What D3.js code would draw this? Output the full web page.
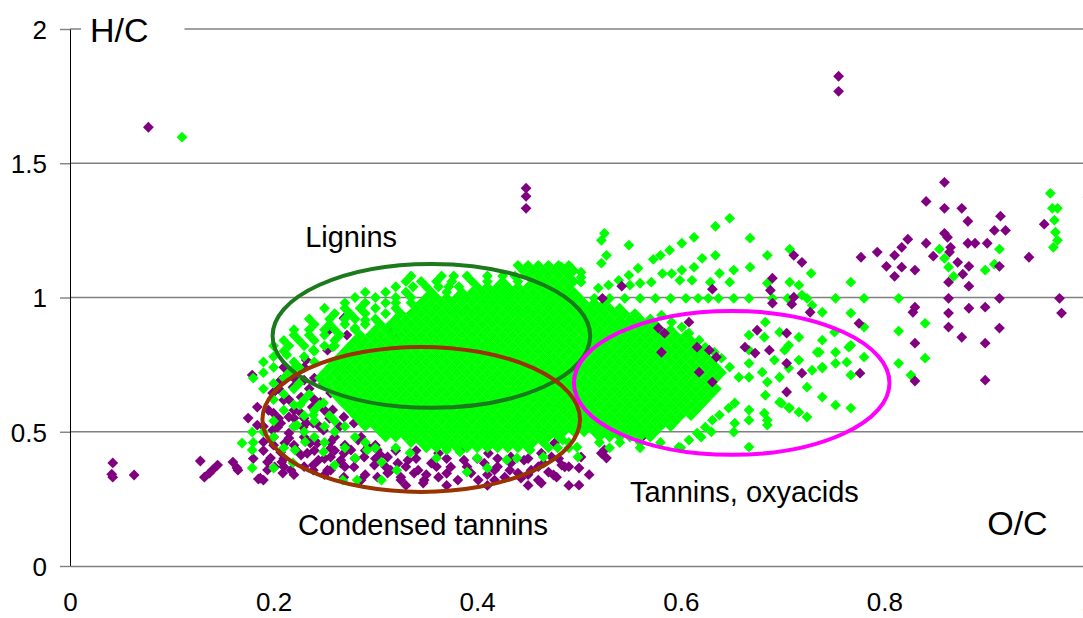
<!DOCTYPE html>
<html><head><meta charset="utf-8">
<script src="https://cdn.jsdelivr.net/npm/d3@7"></script>
<style>html,body{margin:0;padding:0;background:#fff;overflow:hidden}</style>
</head><body>
<svg id="chart" width="1083" height="618"></svg>
<script>
// ---------- axis ticks ----------
const xTicks = [0, 0.2, 0.4, 0.6, 0.8, 1];
const xTickLabels = ["0", "0.2", "0.4", "0.6", "0.8", "1"];
const yTicks = [0, 0.5, 1, 1.5, 2];
const yTickLabels = ["0", "0.5", "1", "1.5", "2"];

// ---------- purple series (drawn beneath green) ----------
const purpleLow = [[0.077,1.634],[0.448,1.407],[0.448,1.377],[0.448,1.332],
[0.042,0.384],[0.042,0.331],[0.041,0.342],[0.063,0.339],[0.128,0.391],[0.132,0.331],[0.137,0.346],[0.140,0.358],[0.145,0.376],[0.160,0.387],[0.164,0.365],[0.175,0.551],[0.184,0.592],[0.184,0.525],[0.190,0.462],[0.194,0.387],[0.185,0.324],[0.194,0.358],[0.201,0.369],[0.208,0.387],[0.209,0.346],[0.211,0.458],
[0.200,0.647],[0.200,0.569],[0.207,0.532],[0.199,0.506],[0.220,0.551],[0.232,0.532],[0.215,0.476],[0.165,0.357],[0.187,0.327],[0.207,0.424],[0.217,0.357],[0.227,0.413],[0.236,0.458],[0.244,0.394],[0.256,0.439],[0.266,0.394],[0.276,0.432],[0.283,0.469],[0.289,0.406],[0.299,0.376],[0.305,0.413],[0.312,0.346],[0.269,0.331],[0.256,0.357],[0.239,0.357],[0.322,0.383],[0.325,0.331],[0.342,0.357],[0.348,0.320],[0.355,0.383],[0.362,0.331],[0.374,0.369],[0.381,0.320],[0.387,0.394],[0.394,0.346],[0.401,0.320],[0.407,0.383],[0.417,0.357],[0.427,0.331],[0.433,0.383],[0.440,0.346],[0.446,0.394],[0.453,0.357],[0.460,0.320],[0.465,0.383],[0.473,0.406],[0.478,0.331],[0.486,0.369],[0.500,0.365],[0.500,0.301],[0.502,0.406],[0.463,0.309],
[0.475,0.339],[0.483,0.376],[0.522,0.420],[0.527,0.402],[0.338,0.346],[0.347,0.309],[0.417,0.320],[0.432,0.357],[0.443,0.327],[0.332,0.394],[0.362,0.420],[0.384,0.432],[0.411,0.420],[0.433,0.406],[0.463,0.420],[0.476,0.458],
[0.269,0.923],[0.179,0.711],[0.232,0.767],[0.207,0.692],[0.219,0.666],[0.199,0.644],[0.210,0.618],[0.227,0.629],[0.238,0.592],[0.227,0.569],[0.215,0.555],[0.204,0.517],[0.215,0.495],[0.229,0.517],[0.239,0.532],[0.249,0.506],[0.232,0.469],[0.243,0.458],[0.256,0.461],[0.222,0.432],[0.233,0.420],[0.256,0.406],[0.269,0.420],[0.197,0.402],[0.190,0.320],[0.239,0.376],[0.253,0.357],[0.266,0.383],[0.279,0.369],[0.249,0.681],[0.256,0.644],[0.246,0.610],[0.258,0.581],[0.269,0.555],[0.279,0.532],[0.286,0.480],[0.293,0.443],[0.302,0.432],[0.312,0.406],[0.315,0.357],[0.325,0.320],[0.302,0.331],[0.286,0.320],[0.255,0.880],[0.272,0.860],[0.253,0.804],[0.230,0.692],[0.313,0.878],[0.320,0.849],[0.562,0.480],[0.525,0.432],
[0.33,0.30],[0.37,0.30],[0.41,0.30],[0.45,0.30],[0.49,0.30],
[0.22,0.34],[0.25,0.34],[0.29,0.34],[0.35,0.34],[0.37,0.345],[0.41,0.34],[0.45,0.34],[0.47,0.35],[0.51,0.34],
[0.21,0.37],[0.23,0.37],[0.27,0.37],[0.31,0.37],[0.33,0.37],[0.36,0.37],[0.39,0.37],[0.42,0.37],[0.46,0.37],[0.49,0.37],
[0.18,0.40],[0.21,0.40],[0.25,0.40],[0.28,0.40],[0.30,0.40],[0.34,0.40],[0.37,0.40],[0.40,0.40],[0.42,0.40],[0.45,0.40],[0.48,0.40],
[0.19,0.43],[0.24,0.43],[0.26,0.43],[0.29,0.43],[0.32,0.43],[0.34,0.43],
[0.20,0.45],[0.22,0.45],[0.27,0.45],[0.30,0.45],
[0.20,0.48],[0.23,0.48],[0.26,0.48],
[0.19,0.52],[0.22,0.52],[0.245,0.52],[0.265,0.52],
[0.205,0.55],[0.23,0.55],[0.255,0.55],
[0.195,0.58],[0.22,0.58],[0.25,0.58],
[0.215,0.62],[0.24,0.62],
[0.205,0.66],[0.235,0.66],
[0.22,0.70],[0.24,0.70],
[0.21,0.74],[0.23,0.74]];

// ---------- purple series (drawn over green, right side) ----------
const purpleHigh = [[0.755,1.824],[0.755,1.768],[0.542,1.042],[0.523,0.997],[0.631,1.031],[0.618,0.722],[0.635,0.778],[0.631,0.685],[0.578,0.886],[0.584,0.867],[0.608,0.908],[0.616,0.815],[0.628,0.804],[0.581,0.796],[0.675,0.878],[0.663,0.815],[0.673,0.793],
[0.859,1.429],[0.841,1.358],[0.859,1.332],[0.876,1.332],[0.882,1.284],[0.914,1.303],[0.908,1.250],[0.919,1.250],[0.957,1.273],[0.859,1.239],[0.862,1.224],[0.823,1.217],[0.841,1.202],[0.865,1.187],[0.882,1.202],[0.889,1.202],[0.901,1.202],[0.817,1.187],[0.793,1.169],[0.810,1.157],[0.848,1.154],[0.864,1.169],[0.872,1.131],[0.883,1.116],[0.942,1.150],[0.777,1.150],[0.802,1.116],[0.817,1.113],[0.830,1.102],[0.810,1.079],[0.877,1.087],[0.863,1.057],[0.883,1.042],[0.913,1.116],[0.863,0.997],[0.883,0.960],[0.899,0.964],[0.913,0.997],[0.972,0.997],[0.974,0.942],[0.863,0.942],[0.830,0.964],[0.828,0.945],[0.863,0.890],[0.876,0.852],[0.913,0.886],[0.830,0.830],[0.899,0.830],[0.830,0.689],[0.899,0.692],[0.776,0.718],[0.775,0.904],[0.719,1.131],[0.711,1.157],[0.690,1.072],[0.688,1.027],[0.690,0.979],[0.711,1.001],[0.709,0.975],[0.727,0.945],[0.704,0.867],[0.687,0.804],[0.704,0.755],[0.719,0.718],[0.704,0.648],[1.0,1.374]];

// ---------- green series: dense rows (H/C value, O/C values) ----------
const greenRowY = [1.12,1.10,1.08,1.06,1.04,1.02,1.00,0.98,0.96,0.94,0.92,0.90,0.88,0.86,0.84,0.82,0.80,0.78,0.76,0.74,0.72,0.70,0.68,0.66,0.64,0.62,0.60,0.58,0.56,0.54,0.52,0.50,0.48,0.46,0.44];
const greenRowX = [
[0.44,0.45,0.46,0.47,0.48,0.49],
[0.445,0.455,0.465,0.475,0.485,0.495],
[0.335,0.365,0.377,0.39,0.41,0.425,0.437,0.45,0.46,0.47,0.48,0.49],
[0.33,0.345,0.36,0.375,0.395,0.41,0.425,0.44,0.455,0.465,0.475,0.485,0.495],
[0.32,0.337,0.35,0.362,0.372,0.382,0.4,0.41,0.42,0.43,0.44,0.45,0.46,0.47,0.48,0.49],
[0.29,0.31,0.33,0.355,0.37,0.385,0.395,0.405,0.415,0.425,0.435,0.445,0.455,0.465,0.475,0.485,0.495],
[0.28,0.3,0.32,0.335,0.35,0.36,0.37,0.38,0.39,0.4,0.41,0.42,0.43,0.44,0.45,0.46,0.47,0.48,0.49,0.5],
[0.27,0.29,0.31,0.32,0.335,0.345,0.355,0.365,0.375,0.385,0.395,0.405,0.415,0.425,0.435,0.445,0.455,0.465,0.475,0.485,0.495,0.505,0.515,0.525],
[0.25,0.27,0.285,0.3,0.32,0.34,0.35,0.36,0.37,0.38,0.39,0.4,0.41,0.42,0.43,0.44,0.45,0.46,0.47,0.48,0.49,0.5,0.51,0.52,0.53,0.54],
[0.26,0.275,0.29,0.31,0.325,0.335,0.345,0.355,0.365,0.375,0.385,0.395,0.405,0.415,0.425,0.435,0.445,0.455,0.465,0.475,0.485,0.495,0.505,0.515,0.525,0.535,0.545,0.555],
[0.235,0.255,0.27,0.28,0.3,0.32,0.33,0.34,0.35,0.36,0.37,0.38,0.39,0.4,0.41,0.42,0.43,0.44,0.45,0.46,0.47,0.48,0.49,0.5,0.51,0.52,0.53,0.54,0.55,0.56,0.57],
[0.24,0.255,0.27,0.29,0.305,0.315,0.325,0.335,0.345,0.355,0.365,0.375,0.385,0.395,0.405,0.415,0.425,0.435,0.445,0.455,0.465,0.475,0.485,0.495,0.505,0.515,0.525,0.535,0.545,0.555,0.565,0.575],
[0.22,0.235,0.25,0.26,0.28,0.3,0.31,0.32,0.33,0.34,0.35,0.36,0.37,0.38,0.39,0.4,0.41,0.42,0.43,0.44,0.45,0.46,0.47,0.48,0.49,0.5,0.51,0.52,0.53,0.54,0.55,0.56,0.57,0.58,0.59],
[0.22,0.235,0.25,0.265,0.285,0.295,0.305,0.315,0.325,0.335,0.345,0.355,0.365,0.375,0.385,0.395,0.405,0.415,0.425,0.435,0.445,0.455,0.465,0.475,0.485,0.495,0.505,0.515,0.525,0.535,0.545,0.555,0.565,0.575,0.585,0.595,0.605],
[0.21,0.225,0.24,0.26,0.28,0.29,0.3,0.31,0.32,0.33,0.34,0.35,0.36,0.37,0.38,0.39,0.4,0.41,0.42,0.43,0.44,0.45,0.46,0.47,0.48,0.49,0.5,0.51,0.52,0.53,0.54,0.55,0.56,0.57,0.58,0.59,0.6,0.61],
[0.2,0.215,0.23,0.25,0.26,0.275,0.285,0.295,0.305,0.315,0.325,0.335,0.345,0.355,0.365,0.375,0.385,0.395,0.405,0.415,0.425,0.435,0.445,0.455,0.465,0.475,0.485,0.495,0.505,0.515,0.525,0.535,0.545,0.555,0.565,0.575,0.585,0.595,0.605,0.615],
[0.21,0.24,0.27,0.28,0.29,0.3,0.31,0.32,0.33,0.34,0.35,0.36,0.37,0.38,0.39,0.4,0.41,0.42,0.43,0.44,0.45,0.46,0.47,0.48,0.49,0.5,0.51,0.52,0.53,0.54,0.55,0.56,0.57,0.58,0.59,0.6,0.61,0.62],
[0.2,0.23,0.265,0.275,0.285,0.295,0.305,0.315,0.325,0.335,0.345,0.355,0.365,0.375,0.385,0.395,0.405,0.415,0.425,0.435,0.445,0.455,0.465,0.475,0.485,0.495,0.505,0.515,0.525,0.535,0.545,0.555,0.565,0.575,0.585,0.595,0.605,0.615,0.625],
[0.19,0.22,0.24,0.26,0.27,0.28,0.29,0.3,0.31,0.32,0.33,0.34,0.35,0.36,0.37,0.38,0.39,0.4,0.41,0.42,0.43,0.44,0.45,0.46,0.47,0.48,0.49,0.5,0.51,0.52,0.53,0.54,0.55,0.56,0.57,0.58,0.59,0.6,0.61,0.62,0.63],
[0.2,0.225,0.255,0.265,0.275,0.285,0.295,0.305,0.315,0.325,0.335,0.345,0.355,0.365,0.375,0.385,0.395,0.405,0.415,0.425,0.435,0.445,0.455,0.465,0.475,0.485,0.495,0.505,0.515,0.525,0.535,0.545,0.555,0.565,0.575,0.585,0.595,0.605,0.615,0.625,0.635],
[0.19,0.215,0.25,0.26,0.27,0.28,0.29,0.3,0.31,0.32,0.33,0.34,0.35,0.36,0.37,0.38,0.39,0.4,0.41,0.42,0.43,0.44,0.45,0.46,0.47,0.48,0.49,0.5,0.51,0.52,0.53,0.54,0.55,0.56,0.57,0.58,0.59,0.6,0.61,0.62,0.63,0.64],
[0.18,0.21,0.245,0.255,0.265,0.275,0.285,0.295,0.305,0.315,0.325,0.335,0.345,0.355,0.365,0.375,0.385,0.395,0.405,0.415,0.425,0.435,0.445,0.455,0.465,0.475,0.485,0.495,0.505,0.515,0.525,0.535,0.545,0.555,0.565,0.575,0.585,0.595,0.605,0.615,0.625,0.635],
[0.2,0.225,0.25,0.26,0.27,0.28,0.29,0.3,0.31,0.32,0.33,0.34,0.35,0.36,0.37,0.38,0.39,0.4,0.41,0.42,0.43,0.44,0.45,0.46,0.47,0.48,0.49,0.5,0.51,0.52,0.53,0.54,0.55,0.56,0.57,0.58,0.59,0.6,0.61,0.62,0.63],
[0.19,0.22,0.255,0.265,0.275,0.285,0.295,0.305,0.315,0.325,0.335,0.345,0.355,0.365,0.375,0.385,0.395,0.405,0.415,0.425,0.435,0.445,0.455,0.465,0.475,0.485,0.495,0.505,0.515,0.525,0.535,0.545,0.555,0.565,0.575,0.585,0.595,0.605,0.615,0.625,0.635],
[0.21,0.235,0.26,0.27,0.28,0.29,0.3,0.31,0.32,0.33,0.34,0.35,0.36,0.37,0.38,0.39,0.4,0.41,0.42,0.43,0.44,0.45,0.46,0.47,0.48,0.49,0.5,0.51,0.52,0.53,0.54,0.55,0.56,0.57,0.58,0.59,0.6,0.61,0.62,0.63],
[0.2,0.23,0.265,0.275,0.285,0.295,0.305,0.315,0.325,0.335,0.345,0.355,0.365,0.375,0.385,0.395,0.405,0.415,0.425,0.435,0.445,0.455,0.465,0.475,0.485,0.495,0.505,0.515,0.525,0.535,0.545,0.555,0.565,0.575,0.585,0.595,0.605,0.615,0.625],
[0.22,0.245,0.27,0.28,0.29,0.3,0.31,0.32,0.33,0.34,0.35,0.36,0.37,0.38,0.39,0.4,0.41,0.42,0.43,0.44,0.45,0.46,0.47,0.48,0.49,0.5,0.51,0.52,0.53,0.54,0.55,0.56,0.57,0.58,0.59,0.6,0.61,0.62],
[0.21,0.24,0.275,0.285,0.295,0.305,0.315,0.325,0.335,0.345,0.355,0.365,0.375,0.385,0.395,0.405,0.415,0.425,0.435,0.445,0.455,0.465,0.475,0.485,0.495,0.505,0.515,0.525,0.535,0.545,0.555,0.565,0.575,0.585,0.595,0.605,0.615],
[0.23,0.255,0.28,0.29,0.3,0.31,0.32,0.33,0.34,0.35,0.36,0.37,0.38,0.39,0.4,0.41,0.42,0.43,0.44,0.45,0.46,0.47,0.48,0.49,0.5,0.51,0.52,0.53,0.54,0.55,0.56,0.57,0.58,0.59,0.6,0.61],
[0.2,0.24,0.26,0.285,0.295,0.305,0.315,0.325,0.335,0.345,0.355,0.365,0.375,0.385,0.395,0.405,0.415,0.425,0.435,0.445,0.455,0.465,0.475,0.485,0.495,0.505,0.515,0.525,0.535,0.545,0.555,0.565,0.575,0.585,0.595],
[0.22,0.25,0.27,0.29,0.3,0.31,0.32,0.33,0.34,0.35,0.36,0.37,0.38,0.39,0.4,0.41,0.42,0.43,0.44,0.45,0.46,0.47,0.48,0.49,0.5,0.51,0.52,0.53,0.54,0.55,0.56,0.57,0.58,0.59],
[0.19,0.23,0.26,0.305,0.315,0.325,0.335,0.345,0.355,0.365,0.375,0.385,0.395,0.405,0.415,0.425,0.435,0.445,0.455,0.465,0.475,0.485,0.495,0.505,0.515,0.525,0.535,0.545,0.555,0.565,0.575],
[0.2,0.24,0.28,0.31,0.32,0.33,0.34,0.35,0.36,0.37,0.38,0.39,0.4,0.41,0.42,0.43,0.44,0.45,0.46,0.47,0.48,0.52,0.53,0.54,0.55,0.56,0.57],
[0.18,0.25,0.29,0.335,0.345,0.355,0.365,0.375,0.385,0.395,0.405,0.415,0.425,0.435,0.445,0.455,0.465,0.49,0.52,0.54,0.56,0.58],
[0.21,0.27,0.3,0.32,0.35,0.36,0.37,0.38,0.39,0.4,0.41,0.42,0.43,0.44,0.45,0.47,0.49,0.53,0.56,0.6]
];

// ---------- green series: scattered points ----------
const greenScatter = [[0.110,1.597],
[0.963,1.388],[0.965,1.332],[0.970,1.332],[0.967,1.288],[0.968,1.243],[0.970,1.213],[0.966,1.187],
[0.854,1.180],[0.859,1.146],[0.863,1.113],[0.868,1.079],[0.913,1.180],[0.908,1.124],[0.899,1.102],
[0.752,0.997],[0.780,0.997],[0.814,0.997],
[0.767,1.057],[0.767,0.942],[0.780,0.890],[0.814,0.875],[0.840,0.904],[0.840,0.774],[0.814,0.755],[0.826,0.711],[0.767,0.822],[0.780,0.778],[0.767,0.711],[0.752,0.796],[0.763,0.759],[0.752,0.755],[0.739,0.737],[0.729,0.729],[0.724,0.666],[0.739,0.841],[0.734,0.796],[0.751,0.871],[0.739,0.945],[0.729,0.971],[0.728,1.090],[0.707,1.180],[0.685,1.157],[0.707,1.057],[0.716,1.046],[0.719,1.009],[0.685,1.053],[0.724,0.997],
[0.648,1.295],[0.634,1.265],[0.668,1.221],[0.613,1.224],[0.601,1.202],[0.589,1.176],[0.580,1.157],[0.573,1.142],[0.634,1.157],[0.621,1.146],[0.613,1.113],[0.601,1.102],[0.652,1.102],[0.668,1.113],[0.638,1.090],[0.629,1.057],[0.648,1.057],
[0.515,0.997],[0.53,0.997],[0.545,0.997],[0.56,0.997],[0.575,0.997],[0.59,0.997],[0.605,0.997],[0.617,0.997],[0.627,0.997],[0.637,0.997],[0.652,0.997],[0.667,0.997],[0.69,0.997],[0.705,0.997],
[0.683,0.908],[0.697,0.871],[0.682,0.852],[0.706,0.822],[0.716,0.852],[0.667,0.860],[0.667,0.804],[0.667,0.755],[0.667,0.703],[0.683,0.636],[0.697,0.610],[0.707,0.588],[0.716,0.573],[0.724,0.555],[0.739,0.629],[0.752,0.599],[0.767,0.588],[0.739,0.741],[0.765,0.815],[0.736,0.796],[0.716,0.767],[0.706,0.737],[0.697,0.703],[0.685,0.685],[0.667,0.581],[0.667,0.543],[0.667,0.443],[0.682,0.569],[0.685,0.543],
[0.653,0.607],[0.647,0.588],[0.638,0.562],[0.631,0.543],[0.624,0.517],[0.616,0.495],[0.608,0.469],[0.598,0.443],
[0.657,0.703],[0.648,0.741],[0.640,0.774],[0.633,0.796],[0.624,0.815],[0.618,0.841],[0.608,0.867],[0.601,0.890],[0.591,0.908],[0.581,0.934],
[0.680,0.722],[0.692,0.767],[0.702,0.804],
[0.706,0.59],[0.699,0.606],[0.685,0.525],[0.653,0.532],[0.652,0.499],[0.63,0.5],[0.62,0.48],
[0.582,1.089],[0.591,1.089],[0.599,1.064],[0.611,1.064],[0.571,1.057],[0.56,1.053],[0.55,1.046],
[0.522,1.213],[0.525,1.239],[0.549,1.195],[0.527,1.157],[0.522,1.128],[0.558,1.109],[0.549,1.083],[0.539,1.064],[0.529,1.046],[0.519,1.035],[0.502,1.094],[0.502,1.075],[0.502,1.057],[0.483,1.113],
[0.169,0.458],[0.179,0.499],[0.179,0.432],[0.179,0.365],[0.2,0.365],[0.219,0.384],[0.223,0.525],[0.221,0.432],[0.231,0.462],[0.249,0.425],[0.26,0.376],[0.282,0.32],[0.268,0.32],[0.28,0.402],[0.292,0.432],[0.306,0.32],[0.306,0.387],[0.321,0.357],[0.334,0.421],[0.36,0.402],[0.37,0.432],[0.383,0.425],[0.39,0.35],[0.4,0.402],[0.41,0.365],[0.429,0.395],[0.439,0.402],[0.452,0.432],[0.465,0.406],[0.479,0.44],[0.498,0.443],[0.499,0.406],[0.484,0.469],
[0.213,0.786],[0.221,0.741],[0.239,0.804],[0.258,0.816],[0.28,0.886],[0.29,0.916],[0.239,0.562],[0.249,0.607],[0.226,0.6]];

// ---------- yellow series (one point at the edge) ----------
const yellowPoints = [[1.0,0.983]];

// ---------- region ellipses (centre O/C, centre H/C, half-width, half-height) ----------
const regionNames = ["Lignins", "Condensed tannins", "Tannins, oxyacids"];
const regionEllipses = [[0.355,0.857,0.156,0.268],[0.345,0.546,0.156,0.270],[0.650,0.682,0.155,0.268]];
const regionColors = ["#1b7a1b", "#993300", "#ff00ff"];
const regionLabelPos = [[0.231,1.188],[0.224,0.115],[0.550,0.238]];

// ---------- drawing ----------
const W = 1083, H = 618;
const svg = d3.select('#chart');
const x = d3.scaleLinear().domain([0, 1]).range([70, 1088]);
const y = d3.scaleLinear().domain([0, 2]).range([566, 29]);
const FONT = "'Liberation Sans', Arial, sans-serif";

// gridlines
svg.append('g').selectAll('line').data(yTicks.filter(d => d > 0)).join('line')
  .attr('x1', x(0)).attr('x2', W)
  .attr('y1', d => y(d)).attr('y2', d => y(d))
  .attr('stroke', '#808080').attr('stroke-width', 1.4);

// y axis
const yAxis = d3.axisLeft(y).tickValues(yTicks).tickSize(10).tickSizeOuter(0).tickPadding(13)
  .tickFormat((d, i) => yTickLabels[i]);
const gy = svg.append('g').attr('transform', `translate(${x(0)},0)`).call(yAxis);
gy.select('.domain').attr('stroke', '#000').attr('stroke-width', 1);
gy.selectAll('.tick line').attr('stroke', '#808080').attr('stroke-width', 1.4);
gy.selectAll('.tick text').attr('font-family', FONT).attr('font-size', 26).attr('fill', '#000').attr('dy', '0.36em');

// x axis
const xAxis = d3.axisBottom(x).tickValues(xTicks).tickSize(0).tickSizeOuter(0).tickPadding(27)
  .tickFormat((d, i) => xTickLabels[i]);
const gx = svg.append('g').attr('transform', `translate(0,${y(0)})`).call(xAxis);
gx.select('.domain').attr('stroke', '#808080').attr('stroke-width', 1.4);
gx.selectAll('.tick text').attr('font-family', FONT).attr('font-size', 26).attr('fill', '#000');

// markers
const R = 5.4;
const diamond = `M0,${-R}L${R},0L0,${R}L${-R},0Z`;
function drawSeries(pts, color) {
  svg.append('g').selectAll('path').data(pts).join('path')
    .attr('d', diamond)
    .attr('transform', d => `translate(${x(d[0])},${y(d[1])})`)
    .attr('fill', color);
}
const greenRows = [];
greenRowY.forEach((hy, i) => greenRowX[i].forEach(ox => greenRows.push([ox, hy])));

drawSeries(purpleLow, '#800080');
drawSeries(greenRows, '#00ff00');
drawSeries(greenScatter, '#00ff00');
drawSeries(purpleHigh, '#800080');
drawSeries(yellowPoints, '#ffd700');

// ellipses
svg.append('g').selectAll('ellipse').data(regionEllipses).join('ellipse')
  .attr('cx', d => x(d[0])).attr('cy', d => y(d[1]))
  .attr('rx', d => x(d[2]) - x(0)).attr('ry', d => y(0) - y(d[3]))
  .attr('fill', 'none')
  .attr('stroke', (d, i) => regionColors[i]).attr('stroke-width', 4);

// region labels
svg.append('g').selectAll('text').data(regionNames).join('text')
  .attr('x', (d, i) => x(regionLabelPos[i][0])).attr('y', (d, i) => y(regionLabelPos[i][1]))
  .attr('font-family', FONT).attr('font-size', 29).attr('fill', '#000')
  .text(d => d);

// axis titles
const hc = svg.append('g');
const hcRect = hc.append('rect').attr('fill', '#fff');
const hcText = hc.append('text').attr('x', x(0.0196)).attr('y', y(1.952))
  .attr('font-family', FONT).attr('font-size', 34).attr('fill', '#000').text('H/C');
const bb = hcText.node().getBBox();
hcRect.attr('x', bb.x - 9).attr('y', bb.y).attr('width', bb.width + 45).attr('height', bb.height);

svg.append('text').attr('x', x(0.901)).attr('y', y(0.115))
  .attr('font-family', FONT).attr('font-size', 34).attr('fill', '#000').text('O/C');
</script>
</body></html>
